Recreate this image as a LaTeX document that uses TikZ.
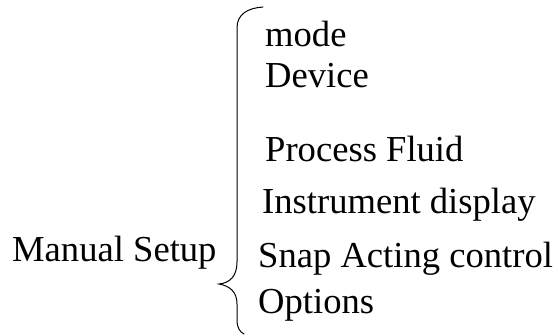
\documentclass[tikz,border=0pt]{standalone}
\usepackage{fontspec}
\setmainfont{Liberation Serif}
\begin{document}
\begin{tikzpicture}[x=1pt,y=-1pt,
  item/.style={anchor=base west,inner sep=0pt,font=\fontsize{36.6}{40}\selectfont},
  brace/.style={line width=1pt,line cap=round}]
\useasboundingbox (0,0) rectangle (558,336);
\node[item] (root) at (12,262) {Manual Setup};
\node[item] (mode) at (265,47) {mode};
\node[item] (dev) at (265,88) {Device};
\node[item] (fluid) at (265,162) {Process Fluid};
\node[item] (disp) at (262,214) {Instrument display};
\node[item] (snap) at (258,268) {Snap Acting control};
\node[item] (opt) at (258,314) {Options};
\coordinate (btop) at (263,7);
\coordinate (btip) at (219,284);
\coordinate (bbot) at (244,334);
\draw[brace] (btop) .. controls (248,8) and (237,14) .. (237,28) -- (237,262)
  .. controls (237,276) and (230,283) .. (btip)
  .. controls (230,286) and (237,292) .. (237,304) -- (237,320)
  .. controls (237,328) and (240,332) .. (bbot);
\end{tikzpicture}
\end{document}
